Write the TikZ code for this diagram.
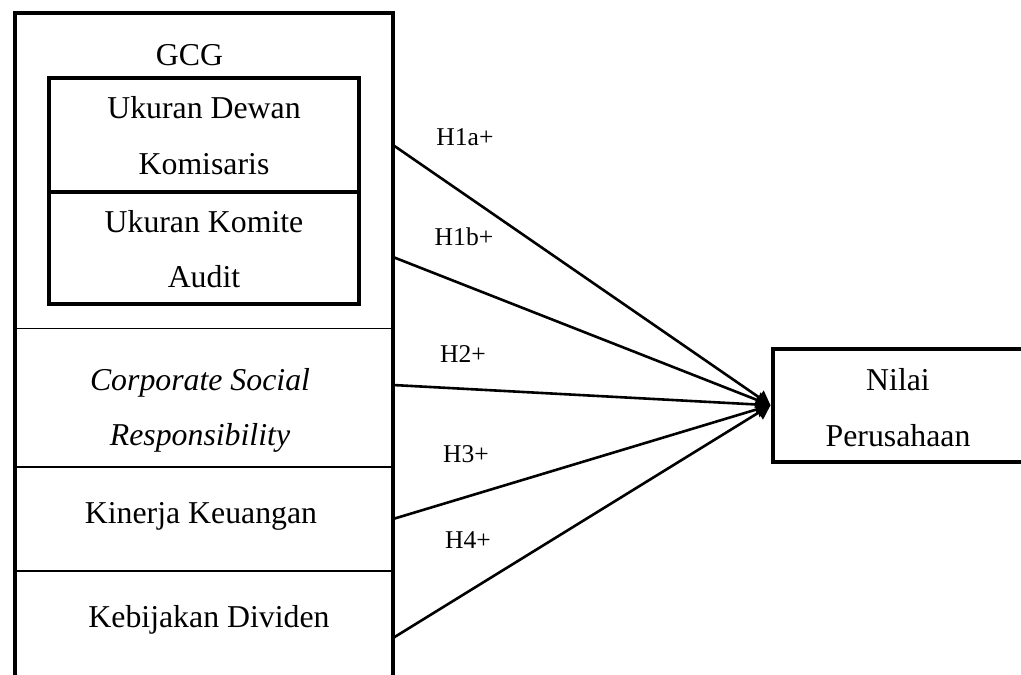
\documentclass[tikz,border=0pt]{standalone}
\usepackage{fontspec}
\setmainfont{Liberation Serif}
\usetikzlibrary{arrows.meta}
\begin{document}
\begin{tikzpicture}[x=0.5pt,y=-0.5pt,
  thickbox/.style={line width=2pt},
  sepline/.style={line width=0.8pt},
  lbl/.style={anchor=base, inner sep=0pt, font=\fontsize{15.9}{19}\selectfont},
  hyp/.style={anchor=base, inner sep=0pt, font=\fontsize{12.8}{15}\selectfont},
  link/.style={line width=1.3pt, -{Triangle[length=7pt,width=8pt]}}]
\useasboundingbox (0,0) rectangle (1021,674);
% outer box (open at the bottom, cut by the page)
\draw[thickbox] (15,690) -- (15,13) -- (393,13) -- (393,690);
% GCG inner box
\draw[thickbox] (48.5,78) rectangle (359,304);
\draw[thickbox] (48.5,191.5) -- (359,191.5);
% separators
\draw[sepline] (15,328.5) -- (393,328.5);
\draw[sepline] (15,467) -- (393,467);
\draw[sepline] (15,571) -- (393,571);
% texts
\node[lbl] (gcg) at (189.5,66) {GCG};
\node[lbl] (ud1) at (204,119) {Ukuran Dewan};
\node[lbl] (ud2) at (204,174) {Komisaris};
\node[lbl] (uk1) at (204,232) {Ukuran Komite};
\node[lbl] (uk2) at (204,287) {Audit};
\node[lbl] (csr1) at (200,390) {\itshape Corporate Social};
\node[lbl] (csr2) at (200,445) {\itshape Responsibility};
\node[lbl] (kk) at (201,523) {Kinerja Keuangan};
\node[lbl] (kd) at (209,627) {Kebijakan Dividen};
% dependent variable
\node[draw, thickbox, inner sep=0pt, minimum width=126.25pt, minimum height=56.25pt] (n) at (898.75,405.25) {};
\node[lbl] (nv1) at (898,390) {Nilai};
\node[lbl] (nv2) at (898,446) {Perusahaan};
% hypothesis labels
\node[hyp] (h1a) at (465,145) {H1a+};
\node[hyp] (h1b) at (464,245) {H1b+};
\node[hyp] (h2) at (463,362) {H2+};
\node[hyp] (h3) at (466,462) {H3+};
\node[hyp] (h4) at (468,548) {H4+};
% connectors
\coordinate (s1) at (393,145);
\coordinate (s2) at (393,257);
\coordinate (s3) at (393,385);
\coordinate (s4) at (393,519);
\coordinate (s5) at (393,638);
\foreach \s in {s1,s2,s3,s4,s5} \draw[link] (\s) -- (n.west);
\end{tikzpicture}
\end{document}
